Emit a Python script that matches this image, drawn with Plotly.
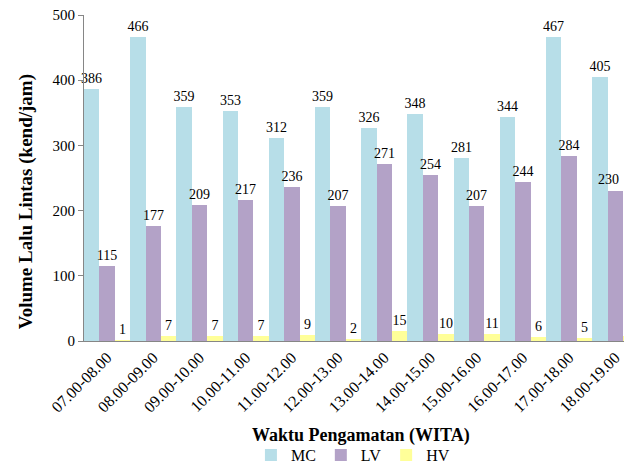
import plotly.graph_objects as go

categories = ["07.00-08.00", "08.00-09.00", "09.00-10.00", "10.00-11.00", "11.00-12.00",
              "12.00-13.00", "13.00-14.00", "14.00-15.00", "15.00-16.00", "16.00-17.00",
              "17.00-18.00", "18.00-19.00"]
mc = [386, 466, 359, 353, 312, 359, 326, 348, 281, 344, 467, 405]
lv = [115, 177, 209, 217, 236, 207, 271, 254, 207, 244, 284, 230]
hv = [1, 7, 7, 7, 9, 2, 15, 10, 11, 6, 5, 8]
series = [("MC", mc, "#B7DEE8"), ("LV", lv, "#B3A2C7"), ("HV", hv, "#FFFF99")]

font = "Liberation Serif, Times New Roman, serif"
fig = go.Figure()
for name, vals, col in series:
    texts = [str(v) for v in vals]
    if name == "LV":
        texts[-1] = ""  # drawn as an annotation so it is not cut at the edge
    fig.add_trace(go.Bar(
        x=categories, y=vals, name=name, marker=dict(color=col, line=dict(width=0)),
        text=texts, textposition="outside", cliponaxis=False, constraintext="none",
        textfont=dict(family=font, size=14, color="#000000"),
    ))

fig.add_annotation(x=categories[-1], y=lv[-1], text=str(lv[-1]), showarrow=False,
                   xref="x", yref="y", yanchor="bottom", xshift=-7, yshift=2,
                   font=dict(family=font, size=14, color="#000000"))
fig.add_annotation(text="<b>Volume Lalu Lintas (kend/jam)</b>", textangle=-90,
                   xref="paper", yref="paper", x=-0.107, y=0.426, showarrow=False,
                   xanchor="center", yanchor="middle",
                   font=dict(family=font, size=19, color="#000000"))
fig.add_annotation(text="<b>Waktu Pengamatan (WITA)</b>",
                   xref="paper", yref="paper", x=0.513, y=-0.291, showarrow=False,
                   xanchor="center", yanchor="middle",
                   font=dict(family=font, size=18, color="#000000"))

fig.update_layout(
    width=624, height=473, barmode="group", bargap=0, bargroupgap=0,
    plot_bgcolor="white", paper_bgcolor="white",
    margin=dict(l=84, r=0, t=15, b=132, autoexpand=False),
    font=dict(family=font, size=15, color="#000000"),
    showlegend=True,
    legend=dict(orientation="h", x=0.498, xanchor="center", y=-0.35, yanchor="middle",
                font=dict(family=font, size=16)),
)
fig.update_xaxes(
    range=[-0.5, 11.19], showline=True, linecolor="#868686", linewidth=1,
    tickangle=-45, ticks="", tickfont=dict(family=font, size=16),
    showgrid=False, automargin=False,
)
fig.update_yaxes(
    range=[0, 500], tickvals=[0, 100, 200, 300, 400, 500], showline=True, linecolor="#868686",
    linewidth=1, ticks="outside", ticklen=5, tickcolor="#868686", showgrid=False, zeroline=False,
    tickfont=dict(family=font, size=15), automargin=False,
)
fig.write_html("out.html", config={"displayModeBar": False},
               post_script="document.body.style.margin='0';")
